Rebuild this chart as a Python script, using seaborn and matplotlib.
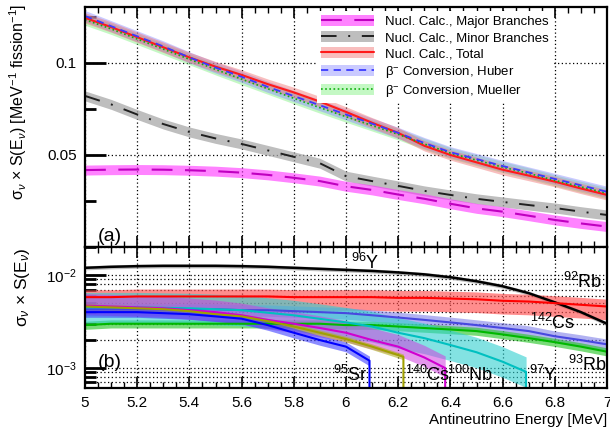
import numpy as np
import pandas as pd
import matplotlib
matplotlib.use("Agg")
import matplotlib.pyplot as plt
import seaborn as sns
from matplotlib.patches import Patch
from matplotlib.lines import Line2D
from matplotlib.ticker import MultipleLocator, LogLocator, FixedLocator, FixedFormatter, NullFormatter

# ---------------- data: top panel ----------------
energy = [5.0, 5.1, 5.2, 5.3, 5.4, 5.5, 5.6, 5.7, 5.8, 5.9, 6.0,
          6.1, 6.2, 6.3, 6.4, 6.5, 6.6, 6.7, 6.8, 6.9, 7.0]
major_branches = [0.0418, 0.0420, 0.0421, 0.0420, 0.0417, 0.0412, 0.0404, 0.0392, 0.0376, 0.0358, 0.0330,
                  0.0310, 0.0285, 0.0262, 0.0235, 0.0210, 0.0192, 0.0170, 0.0147, 0.0128, 0.0111]
minor_branches = [0.0821, 0.0775, 0.0720, 0.0668, 0.0625, 0.0590, 0.0560, 0.0525, 0.0490, 0.0455, 0.0385,
                  0.0358, 0.0332, 0.0305, 0.0283, 0.0262, 0.0245, 0.0228, 0.0212, 0.0192, 0.0174]
total = [0.1245, 0.1195, 0.1140, 0.1085, 0.1030, 0.0980, 0.0935, 0.0885, 0.0840, 0.0790, 0.0734,
         0.0675, 0.0620, 0.0550, 0.0500, 0.0460, 0.0420, 0.0388, 0.0355, 0.0318, 0.0283]
huber = [0.1255, 0.1200, 0.1145, 0.1090, 0.1030, 0.0975, 0.0925, 0.0870, 0.0820, 0.0770, 0.0720,
         0.0670, 0.0620, 0.0565, 0.0515, 0.0478, 0.0440, 0.0405, 0.0370, 0.0335, 0.0300]
mueller = [0.1235, 0.1185, 0.1130, 0.1075, 0.1020, 0.0965, 0.0912, 0.0860, 0.0808, 0.0757, 0.0708,
           0.0660, 0.0612, 0.0560, 0.0510, 0.0472, 0.0434, 0.0400, 0.0362, 0.0327, 0.0292]
band_halfwidth = {"major": 0.0027, "minor": 0.0027, "total": 0.0028, "huber": 0.0030, "mueller": 0.0030}

legend_labels = ["Nucl. Calc., Major Branches", "Nucl. Calc., Minor Branches", "Nucl. Calc., Total",
                 r"$\mathrm{\beta}^{-}$ Conversion, Huber", r"$\mathrm{\beta}^{-}$ Conversion, Mueller"]

# ---------------- data: bottom panel (isotopes) ----------------
iso_names = ["96Y", "92Rb", "142Cs", "93Rb", "97Y", "100Nb", "140Cs", "95Sr"]
iso_labels = [r"$^{96}$Y", r"$^{92}$Rb", r"$^{142}$Cs", r"$^{93}$Rb", r"$^{97}$Y", r"$^{100}$Nb", r"$^{140}$Cs", r"$^{95}$Sr"]
e_full = [5.0, 5.1, 5.2, 5.3, 5.4, 5.5, 5.6, 5.7, 5.8, 5.9, 6.0, 6.1, 6.2, 6.3, 6.4, 6.5, 6.6, 6.7, 6.8, 6.9, 7.0]
y96 = [0.0120, 0.0123, 0.0125, 0.0126, 0.0126, 0.0126, 0.0125, 0.0123, 0.0120, 0.0117, 0.0114,
       0.0111, 0.0107, 0.0102, 0.0095, 0.0086, 0.0076, 0.0064, 0.0051, 0.0040, 0.0030]
rb92 = [0.0058, 0.0058, 0.0059, 0.0059, 0.0059, 0.0059, 0.0059, 0.0059, 0.0058, 0.0058, 0.0058,
        0.0058, 0.0057, 0.0057, 0.0056, 0.0055, 0.0053, 0.0052, 0.0050, 0.0048, 0.0046]
cs142 = [0.0043, 0.0043, 0.0043, 0.0043, 0.0043, 0.0043, 0.0042, 0.0042, 0.0041, 0.0040, 0.0039,
         0.0037, 0.0035, 0.0033, 0.0031, 0.0029, 0.0027, 0.0025, 0.0022, 0.0020, 0.0018]
rb93 = [0.0029, 0.0030, 0.0030, 0.0030, 0.0030, 0.0030, 0.0030, 0.0030, 0.0030, 0.0030, 0.0029,
        0.0029, 0.0028, 0.0027, 0.0026, 0.0025, 0.0023, 0.0021, 0.0019, 0.0017, 0.0015]
e_y97 = [5.0, 5.2, 5.4, 5.6, 5.8, 6.0, 6.1, 6.2, 6.3, 6.4, 6.5, 6.6, 6.69]
y97 = [0.0045, 0.0045, 0.0044, 0.0042, 0.0037, 0.0031, 0.0028, 0.0024, 0.0021, 0.00177, 0.00148, 0.00117, 0.00091]
e_nb100 = [5.0, 5.1, 5.2, 5.3, 5.4, 5.5, 5.6, 5.7, 5.8, 5.9, 6.0, 6.1, 6.2, 6.3, 6.38]
nb100 = [0.0047, 0.0046, 0.0045, 0.0044, 0.0042, 0.0040, 0.0037, 0.0033, 0.0030, 0.0027, 0.0024,
         0.0020, 0.0017, 0.0013, 0.0010]
e_cs140 = [5.0, 5.1, 5.2, 5.3, 5.4, 5.5, 5.6, 5.7, 5.8, 5.9, 6.0, 6.1, 6.2, 6.22]
cs140 = [0.0046, 0.0045, 0.0044, 0.0043, 0.0041, 0.0038, 0.0036, 0.0032, 0.0028, 0.0024, 0.00205,
         0.0017, 0.00138, 0.00132]
e_sr95 = [5.0, 5.1, 5.2, 5.3, 5.4, 5.5, 5.6, 5.7, 5.8, 5.9, 6.0, 6.09]
sr95 = [0.0040, 0.0040, 0.0040, 0.0039, 0.0038, 0.0036, 0.0034, 0.0029, 0.0024, 0.0020, 0.0017, 0.0012]
# band factors (low, high) relative to central value
iso_band = {"96Y": (0.95, 1.05), "92Rb": (0.72, 1.2), "142Cs": (0.86, 1.14), "93Rb": (0.9, 1.1),
            "97Y": (0.68, 1.45), "100Nb": (0.8, 1.35), "140Cs": (0.93, 1.07), "95Sr": (0.88, 1.12)}
label_pos = {"96Y": (6.02, 0.0135), "92Rb": (6.83, 0.0084), "142Cs": (6.705, 0.00305),
             "93Rb": (6.85, 0.00108), "97Y": (6.70, 0.00084), "100Nb": (6.387, 0.00084),
             "140Cs": (6.226, 0.00084), "95Sr": (5.95, 0.00084)}

# ---------------- style ----------------
sns.set_theme(style="ticks")
plt.rcParams["font.family"] = ["Liberation Sans", "DejaVu Sans"]
plt.rcParams["mathtext.fontset"] = "custom"
plt.rcParams["mathtext.rm"] = "Liberation Sans"
plt.rcParams["mathtext.it"] = "Liberation Sans:italic"
plt.rcParams["mathtext.bf"] = "Liberation Sans:bold"
plt.rcParams["axes.linewidth"] = 1.6
for k in ["axes.edgecolor", "xtick.color", "ytick.color", "text.color", "axes.labelcolor"]:
    plt.rcParams[k] = "black"

fig = plt.figure(figsize=(6.10, 4.37), dpi=100)
L, R = 85 / 610, 607 / 610
ax1 = fig.add_axes([L, 1 - 247 / 437, R - L, 240 / 437])
ax2 = fig.add_axes([L, 1 - 388 / 437, R - L, 141 / 437])

# ---------------- top panel ----------------
top_df = pd.DataFrame({"E": energy, "major": major_branches, "minor": minor_branches,
                       "total": total, "huber": huber, "mueller": mueller})
top_style = {
    "mueller": dict(band="#7ef07e", line="#10b010", ls=(0, (1, 1.5)), lw=1.2, alpha=0.45),
    "huber": dict(band="#8a8aff", line="#3a3aff", ls=(0, (4, 3)), lw=1.3, alpha=0.45),
    "total": dict(band="#f07070", line="#ff1a1a", ls="-", lw=1.5, alpha=0.45),
    "minor": dict(band="#a8a8a8", line="#202020", ls=(0, (8, 6, 1, 6)), lw=1.4, alpha=0.75),
    "major": dict(band="#ff30ff", line="#c000c0", ls=(0, (10, 6)), lw=1.5, alpha=0.6),
}
for key in ["mueller", "huber", "total", "minor", "major"]:
    st = top_style[key]
    y = top_df[key].to_numpy()
    hw = band_halfwidth[key]
    ax1.fill_between(top_df["E"], y - hw, y + hw, color=st["band"], alpha=st["alpha"], lw=0)
for key in ["major", "minor", "total", "mueller", "huber"]:
    st = top_style[key]
    sns.lineplot(data=top_df, x="E", y=key, ax=ax1, color=st["line"], linestyle=st["ls"],
                 linewidth=st["lw"], estimator=None, sort=False, legend=False)

ax1.set_xlim(5, 7)
ax1.set_ylim(0, 0.1304)
ax1.yaxis.set_major_locator(FixedLocator([0.05, 0.1]))
ax1.yaxis.set_major_formatter(FixedFormatter(["0.05", "0.1"]))
ax1.yaxis.set_minor_locator(FixedLocator([0.025, 0.075, 0.125]))
ax1.xaxis.set_major_locator(MultipleLocator(0.2))
ax1.xaxis.set_minor_locator(MultipleLocator(0.05))
ax1.tick_params(axis="x", which="both", direction="in", top=True, bottom=True, labelbottom=False)
ax1.tick_params(axis="x", which="major", length=8, width=1.2)
ax1.tick_params(axis="x", which="minor", length=4, width=1.0)
ax1.tick_params(axis="y", which="major", direction="in", length=15, width=2, labelsize=11, pad=6)
ax1.tick_params(axis="y", which="minor", direction="in", length=8, width=2)
ax1.grid(True, which="major", color="black", linestyle=(0, (1, 2)), linewidth=0.9)
ax1.set_xlabel("")
ax1.set_ylabel("")

handles = []
for key in ["major", "minor", "total", "huber", "mueller"]:
    st = top_style[key]
    handles.append((Patch(facecolor=st["band"], alpha=st["alpha"], edgecolor="none"),
                    Line2D([], [], color=st["line"], linestyle=st["ls"], linewidth=st["lw"])))
leg = ax1.legend(handles, legend_labels, loc="upper left", bbox_to_anchor=(0.44, 0.995),
                 fontsize=9.5, handlelength=4.0, handleheight=0.9, handletextpad=0.8,
                 labelspacing=0.25, frameon=True, framealpha=1, facecolor="white",
                 edgecolor="none", fancybox=False, borderpad=0.3, borderaxespad=0.2)
ax1.text(0.025, 0.045, "(a)", transform=ax1.transAxes, fontsize=14, ha="left", va="center")

# ---------------- bottom panel ----------------
iso_series = {
    "96Y": (e_full, y96), "92Rb": (e_full, rb92), "142Cs": (e_full, cs142), "93Rb": (e_full, rb93),
    "97Y": (e_y97, y97), "100Nb": (e_nb100, nb100), "140Cs": (e_cs140, cs140), "95Sr": (e_sr95, sr95),
}
iso_colors = {"96Y": ("#000000", "#808080"), "92Rb": ("#ff0000", "#ff5050"),
              "142Cs": ("#4848e0", "#8080e8"), "93Rb": ("#00b800", "#30c830"),
              "97Y": ("#00c0c0", "#30d0d0"), "100Nb": ("#d000d0", "#d040e0"),
              "140Cs": ("#a0a000", "#b0b020"), "95Sr": ("#0000ff", "#4040ff")}
iso_alpha = {"96Y": 0.5, "92Rb": 0.65, "142Cs": 0.6, "93Rb": 0.65, "97Y": 0.6,
             "100Nb": 0.55, "140Cs": 0.6, "95Sr": 0.6}
ymin2, ymax2 = 6.1e-4, 0.0201
for name in iso_names:
    ex, yv = iso_series[name]
    lo, hi = iso_band[name]
    yv = np.array(yv)
    ax2.fill_between(ex, yv * lo, yv * hi, color=iso_colors[name][1], alpha=iso_alpha[name], lw=0)
for name in iso_names:
    ex, yv = iso_series[name]
    xs, ys = list(ex), list(yv)
    if ex[-1] < 7.0:
        xs.append(ex[-1])
        ys.append(1e-4)
    df = pd.DataFrame({"E": xs, "S": ys})
    sns.lineplot(data=df, x="E", y="S", ax=ax2, color=iso_colors[name][0], linewidth=1.8 if name == "96Y" else 1.5,
                 estimator=None, sort=False, legend=False)
for name, lab in zip(iso_names, iso_labels):
    px, py = label_pos[name]
    ax2.text(px, py, lab, fontsize=13, ha="left", va="center")

ax2.set_yscale("log")
ax2.set_xlim(5, 7)
ax2.set_ylim(ymin2, ymax2)
ax2.yaxis.set_major_locator(FixedLocator([1e-3, 1e-2]))
ax2.yaxis.set_major_formatter(FixedFormatter([r"$10^{-3}$", r"$10^{-2}$"]))
ax2.yaxis.set_minor_locator(LogLocator(base=10, subs=np.arange(2, 10) * 1.0, numticks=20))
ax2.yaxis.set_minor_formatter(NullFormatter())
ax2.xaxis.set_major_locator(MultipleLocator(0.2))
ax2.xaxis.set_minor_locator(MultipleLocator(0.05))
ax2.xaxis.set_major_formatter(matplotlib.ticker.FuncFormatter(lambda v, p: f"{v:g}"))
ax2.tick_params(axis="x", which="both", direction="in", top=True, bottom=True)
ax2.tick_params(axis="x", which="major", length=8, width=1.2, labelsize=11, pad=6)
ax2.tick_params(axis="x", which="minor", length=4, width=1.0)
ax2.tick_params(axis="y", which="major", direction="in", length=15, width=2, labelsize=11, pad=6)
ax2.tick_params(axis="y", which="minor", direction="in", length=8, width=2)
ax2.grid(True, which="major", axis="x", color="black", linestyle=(0, (1, 2)), linewidth=0.9)
ax2.grid(True, which="both", axis="y", color="black", linestyle=(0, (1, 2)), linewidth=0.9)
ax2.set_ylabel("")
ax2.set_xlabel("")
ax2.text(0.025, 0.184, "(b)", transform=ax2.transAxes, fontsize=14, ha="left", va="center")

# axis titles
fig.text(18 / 610, 1 - 4 / 437, r"$\mathrm{\sigma}_{\nu}$ $\times$ S(E$_{\nu}$) [MeV$^{-1}$ fission$^{-1}$]",
         rotation=90, ha="center", va="top", fontsize=11.5)
fig.text(23 / 610, 1 - 247 / 437, r"$\mathrm{\sigma}_{\nu}$ $\times$ S(E$_{\nu}$)",
         rotation=90, ha="center", va="top", fontsize=12.5)
fig.text(607 / 610, 1 - 420 / 437, "Antineutrino Energy [MeV]", ha="right", va="center", fontsize=11)

fig.savefig("out.png", dpi=100)
